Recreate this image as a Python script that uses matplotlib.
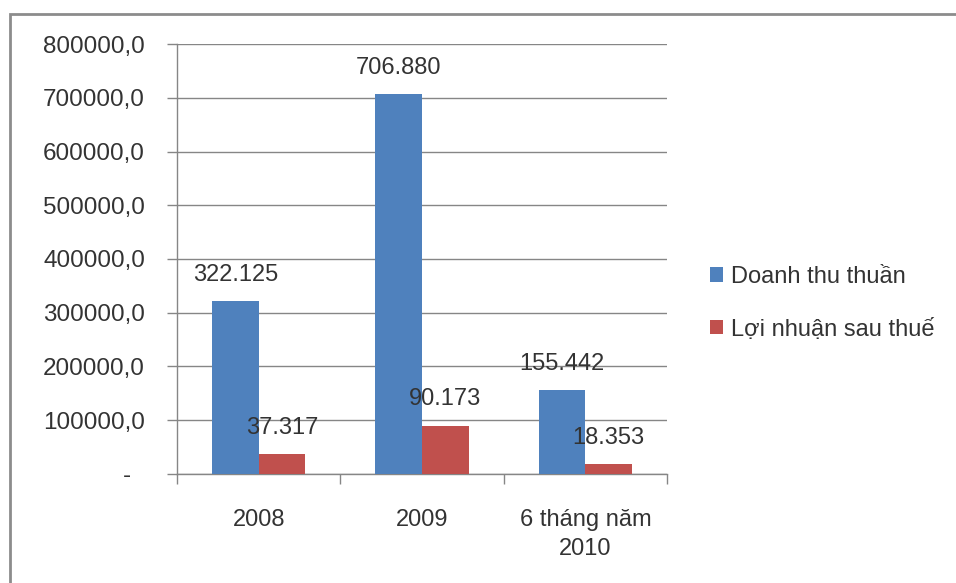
import numpy as np
import matplotlib
matplotlib.use("Agg")
import matplotlib.pyplot as plt
from matplotlib.patches import Rectangle

plt.rcParams['font.family'] = ['Liberation Sans', 'DejaVu Sans']

categories = ['2008', '2009', '6 tháng năm\n2010']
doanh_thu = [322125, 706880, 155442]
loi_nhuan = [37317, 90173, 18353]
doanh_thu_labels = ['322.125', '706.880', '155.442']
loi_nhuan_labels = ['37.317', '90.173', '18.353']
yticks = [0, 100000, 200000, 300000, 400000, 500000, 600000, 700000, 800000]
ytick_labels = ['-  ', '100000,0', '200000,0', '300000,0', '400000,0',
                '500000,0', '600000,0', '700000,0', '800000,0']

blue = '#4F81BD'
red = '#C0504D'
grey = '#868686'
txt = '#333333'

fig = plt.figure(figsize=(9.56, 5.83), dpi=100)
ax = fig.add_axes([0.1851, 0.187, 0.5126, 0.7375])

x = np.arange(len(categories))
w = 0.285
b1 = ax.bar(x - w/2, doanh_thu, w, color=blue, label='Doanh thu thuần', zorder=3)
b2 = ax.bar(x + w/2, loi_nhuan, w, color=red, label='Lợi nhuận sau thuế', zorder=3)

for rect, lab in zip(b1, doanh_thu_labels):
    ax.annotate(lab, (rect.get_x() + rect.get_width()/2, rect.get_height()),
                xytext=(0, 11), textcoords='offset points', ha='center', va='bottom',
                fontsize=17, color=txt, zorder=4)
for rect, lab in zip(b2, loi_nhuan_labels):
    ax.annotate(lab, (rect.get_x() + rect.get_width()/2, rect.get_height()),
                xytext=(0, 11), textcoords='offset points', ha='center', va='bottom',
                fontsize=17, color=txt, zorder=4)

ax.set_xlim(-0.5, 2.5)
ax.set_ylim(0, 800000)
ax.set_yticks(yticks)
ax.set_yticklabels(ytick_labels, fontsize=17.5, color=txt)
ax.set_xticks([-0.5, 0.5, 1.5, 2.5])
ax.set_xticklabels([])
ax.set_xticks(x, minor=True)
ax.set_xticklabels(categories, minor=True, fontsize=17, color=txt, linespacing=1.4)
ax.tick_params(axis='x', which='minor', length=0, pad=25)
ax.tick_params(axis='x', which='major', length=7, width=1, color=grey, direction='out')
ax.tick_params(axis='y', length=7, width=1, color=grey, pad=16)

ax.yaxis.grid(True, color=grey, linewidth=1, zorder=0)
ax.set_axisbelow(True)
for s in ['top', 'right']:
    ax.spines[s].set_visible(False)
for s in ['left', 'bottom']:
    ax.spines[s].set_color(grey)
    ax.spines[s].set_linewidth(1)

fig.legend(handles=[b1, b2], loc='center left', bbox_to_anchor=(0.7427, 0.48),
           frameon=False, fontsize=17, labelcolor=txt, handlelength=0.55,
           handleheight=0.55, handletextpad=0.35, labelspacing=1.3,
           borderpad=0, borderaxespad=0)

fig.patches.append(Rectangle((10/956, -0.05), 1.2, 1 - 14/583 + 0.05,
                             transform=fig.transFigure, fill=False,
                             edgecolor='#8c8c8c', linewidth=2))

fig.savefig('out.png', dpi=100)
